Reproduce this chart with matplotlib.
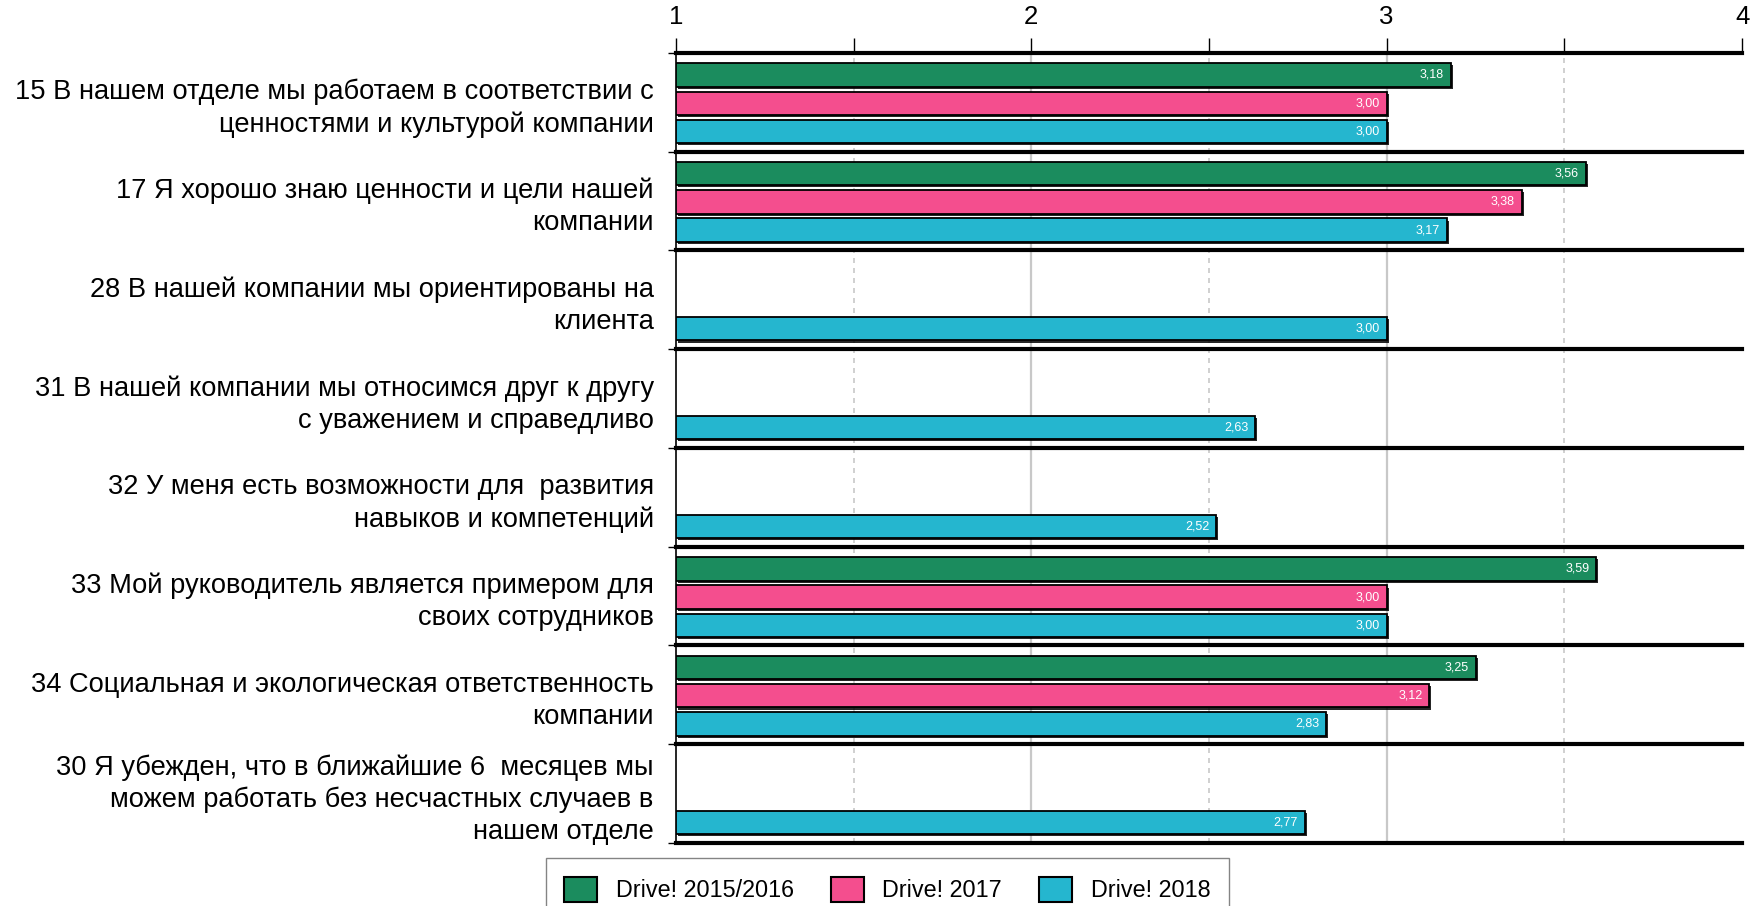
import numpy as np
import matplotlib
matplotlib.use("Agg")
import matplotlib.pyplot as plt
import matplotlib.patheffects as pe
from matplotlib.patches import Patch

plt.rcParams['font.family'] = ['Liberation Sans', 'DejaVu Sans']

questions = [
    "15 В нашем отделе мы работаем в соответствии с\nценностями и культурой компании",
    "17 Я хорошо знаю ценности и цели нашей\nкомпании",
    "28 В нашей компании мы ориентированы на\nклиента",
    "31 В нашей компании мы относимся друг к другу\nс уважением и справедливо",
    "32 У меня есть возможности для  развития\nнавыков и компетенций",
    "33 Мой руководитель является примером для\nсвоих сотрудников",
    "34 Социальная и экологическая ответственность\nкомпании",
    "30 Я убежден, что в ближайшие 6  месяцев мы\nможем работать без несчастных случаев в\nнашем отделе",
]
series_names = ["Drive! 2015/2016", "Drive! 2017", "Drive! 2018"]
drive_2015_16 = [3.18, 3.56, None, None, None, 3.59, 3.25, None]
drive_2017 = [3.00, 3.38, None, None, None, 3.00, 3.12, None]
drive_2018 = [3.00, 3.17, 3.00, 2.63, 2.52, 3.00, 2.83, 2.77]
colors = ["#1B8C5E", "#F44E8E", "#25B6CF"]

scale_min, scale_max = 1, 4

fig = plt.figure(figsize=(17.57, 9.06), dpi=100)
ax = fig.add_axes([0.3847, 0.0695, 0.6068, 0.8723])

n = len(questions)
offsets = [-0.285, 0.0, 0.285]
bar_h = 0.235
shadow = [pe.SimplePatchShadow(offset=(1.5, -1.5), shadow_rgbFace="black", alpha=0.85), pe.Normal()]

for k, vals in enumerate([drive_2015_16, drive_2017, drive_2018]):
    for i, v in enumerate(vals):
        if v is None:
            continue
        y = i + 0.51 + offsets[k]
        b = ax.barh(y, v - scale_min, left=scale_min, height=bar_h, color=colors[k],
                    edgecolor="black", linewidth=1.3, zorder=3)
        for p in b:
            p.set_path_effects(shadow)
        ax.annotate("{:.2f}".format(v).replace(".", ","), xy=(v, y), xytext=(-5, 0),
                    textcoords="offset points", ha="right", va="center",
                    color="white", fontsize=9, zorder=4)

# grid
for x in np.arange(1.5, 4.0, 0.5):
    if x == int(x):
        ax.axvline(x, color="#c8c8c8", lw=1.6, zorder=1)
    else:
        ax.axvline(x, color="#c8c8c8", lw=1.2, ls=(0, (3, 3)), zorder=1)

# group separators
for i in range(n + 1):
    ax.axhline(i, color="black", lw=3, zorder=5, clip_on=False)

ax.set_xlim(scale_min, scale_max)
ax.set_ylim(n, 0)

ax.xaxis.tick_top()
xt = np.arange(1, 4.01, 0.5)
ax.set_xticks(xt)
ax.set_xticklabels([str(int(x)) if x == int(x) else "" for x in xt], fontsize=18.5)
ax.tick_params(axis="x", length=11, width=1, pad=6, bottom=False)

ax.set_yticks(np.arange(0, n + 1))
ax.set_yticklabels([])
ax.set_yticks(np.arange(n) + 0.5, minor=True)
ax.set_yticklabels(questions, minor=True, fontsize=19.6, linespacing=1.3, ha="right")
ax.tick_params(axis="y", which="major", length=6, width=1)
ax.tick_params(axis="y", which="minor", length=0, pad=16)

for s in ["top", "right", "bottom"]:
    ax.spines[s].set_visible(False)
ax.spines["left"].set_linewidth(1.2)

handles = [Patch(facecolor=c, edgecolor="black", linewidth=1.5) for c in colors]
fig.legend(handles, series_names, loc="upper center", bbox_to_anchor=(0.505, 0.053),
           ncol=3, fontsize=16.8, frameon=True, fancybox=False, edgecolor="#666666",
           handlelength=1.4, handleheight=1.3, columnspacing=1.6, handletextpad=0.8,
           borderpad=0.8, borderaxespad=0.0)

fig.savefig("out.png", dpi=100)
